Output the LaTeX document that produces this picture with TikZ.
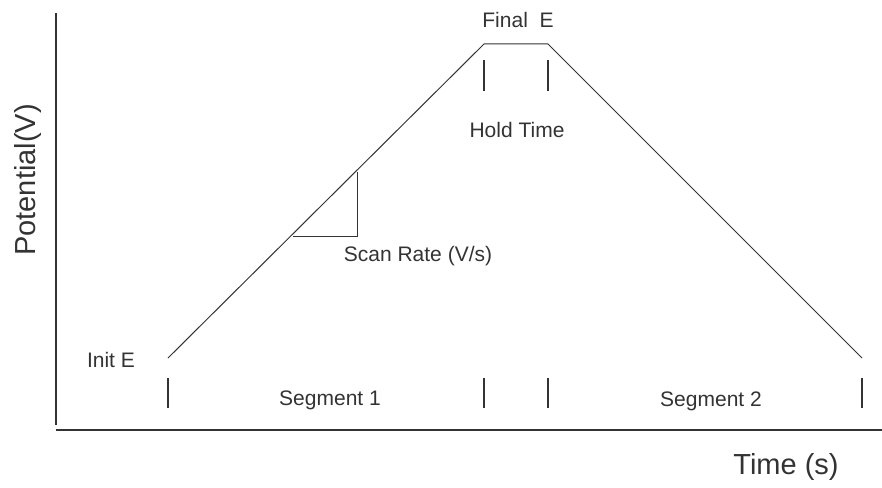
\documentclass[tikz,border=0pt]{standalone}
\usepackage{fontspec}
\setmainfont{Liberation Sans}
\usepackage{tikz}
\usetikzlibrary{positioning, calc}
\definecolor{inkgray}{HTML}{333333}
\tikzset{
    lbl/.style={text=inkgray, inner sep=0pt, font=\fontsize{21}{25}\selectfont},
    axlbl/.style={text=inkgray, inner sep=0pt, font=\fontsize{29}{34}\selectfont},
    tick/.style={line width=1.2pt, draw=inkgray},
}

\begin{document}
\begin{tikzpicture}[x=1pt, y=-1pt, line width=1pt, draw=inkgray]
    \useasboundingbox (0,0) rectangle (882,487);
    % axes
    \coordinate (origin) at (56,430);
    \coordinate (ytop) at (56,13);
    \coordinate (xend) at (882,430);
    \draw[line width=1.6pt] (ytop) -- (56,425);
    \draw[line width=1.6pt] (origin) -- (xend);
    \node[axlbl, rotate=90] (potlbl) at (28,180) {Potential(V)};
    \node[axlbl] (timelbl) at (786,467) {Time (s)};
    % waveform
    \coordinate (start) at (168,358);
    \coordinate (upper1) at (484,44);
    \coordinate (upper2) at (548,44);
    \coordinate (finish) at (862,358);
    \draw (start) -- (upper1) -- (upper2) -- (finish);
    % scan rate triangle
    \coordinate (tri1) at (293,236);
    \coordinate (tri2) at (357,236);
    \coordinate (tri3) at (357,172);
    \draw (tri1) -- (tri2) -- (tri3);
    % ticks
    \foreach \tx in {168,484,548,862}
        \draw[tick] (\tx,378) -- (\tx,408);
    \foreach \tx in {484,548}
        \draw[tick] (\tx,60) -- (\tx,91);
    % labels
    \node[lbl] (initE) at (111,360) {Init E};
    \node[lbl] (finalE) at (518,20) {Final\ \ E};
    \node[lbl] (hold) at (517,130) {Hold Time};
    \node[lbl] (rate) at (418,256) {Scan Rate (V/s)};
    \node[lbl] (seg1) at (330,400) {Segment 1};
    \node[lbl] (seg2) at (711,401) {Segment 2};
\end{tikzpicture}
\end{document}
